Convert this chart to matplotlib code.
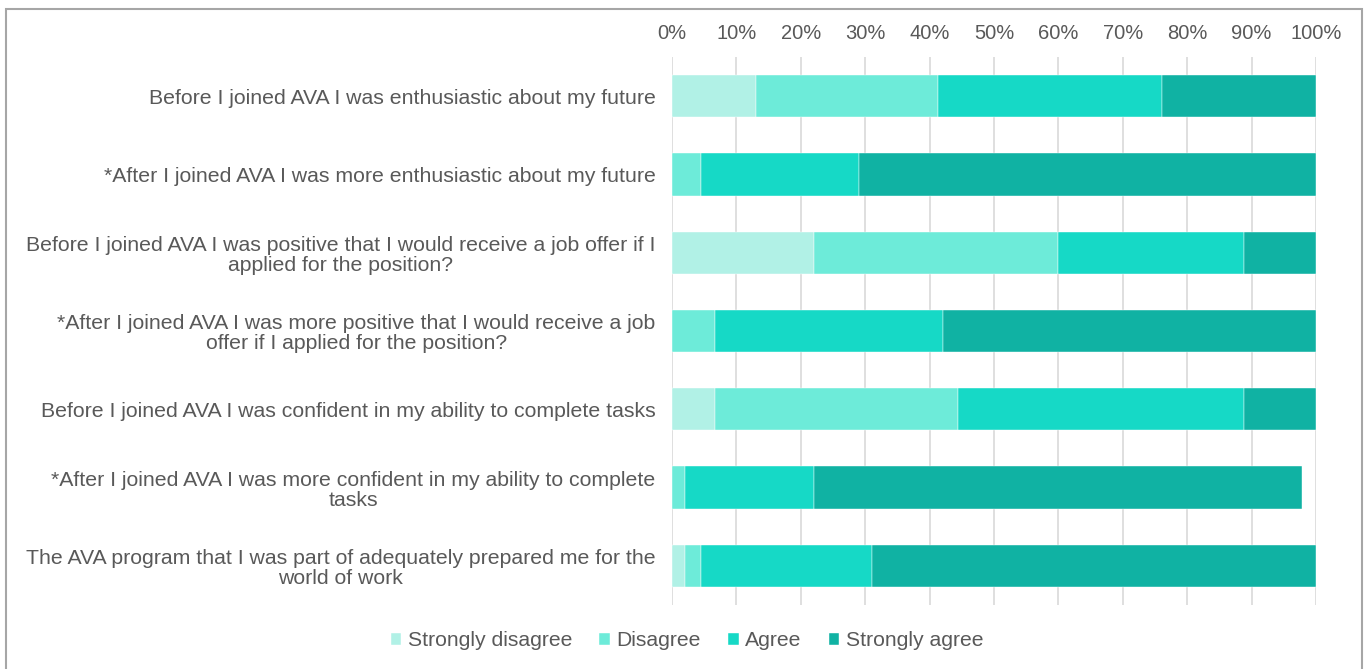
import numpy as np
import matplotlib
matplotlib.use('Agg')
import matplotlib.pyplot as plt
from matplotlib.patches import Rectangle

plt.rcParams['font.family'] = ['Liberation Sans', 'DejaVu Sans']

# Survey statements (top to bottom)
questions = [
    'Before I joined AVA I was enthusiastic about my future',
    '*After I joined AVA I was more enthusiastic about my future',
    'Before I joined AVA I was positive that I would receive a job offer if I\napplied for the position?',
    '*After I joined AVA I was more positive that I would receive a job\noffer if I applied for the position?',
    'Before I joined AVA I was confident in my ability to complete tasks',
    '*After I joined AVA I was more confident in my ability to complete\ntasks',
    'The AVA program that I was part of adequately prepared me for the\nworld of work',
]

# Response shares in percent
strongly_disagree = [13.0, 0.0, 22.1, 0.0, 6.7, 0.0, 2.0]
disagree          = [28.3, 4.5, 37.9, 6.7, 37.7, 2.0, 2.5]
agree             = [34.8, 24.5, 28.8, 35.4, 44.4, 20.1, 26.6]
strongly_agree    = [23.9, 71.0, 11.2, 57.9, 11.2, 75.8, 68.9]

series = [strongly_disagree, disagree, agree, strongly_agree]
names = ['Strongly disagree', 'Disagree', 'Agree', 'Strongly agree']
colors = ['#b1f1e6', '#6debd9', '#16d9c6', '#10b2a3']

txt = '#595959'

fig = plt.figure(figsize=(13.64, 6.69), dpi=100)
ax = fig.add_axes([0.4927, 0.0957, 0.4721, 0.8191])

y = np.arange(len(questions))
left = np.zeros(len(questions))
for vals, nm, c in zip(series, names, colors):
    vals = np.array(vals)
    ax.barh(y, vals, left=left, height=0.54, color=c, label=nm,
            edgecolor='white', linewidth=0.3, zorder=3)
    left += vals

ax.set_xlim(0, 100)
ax.set_ylim(len(questions) - 0.5, -0.5)
ax.set_xticks(np.arange(0, 101, 10))
ax.set_xticklabels(['%d%%' % v for v in range(0, 101, 10)])
ax.xaxis.tick_top()
ax.tick_params(axis='x', length=0, pad=10, labelsize=14.5, colors=txt)
ax.set_yticks(y)
ax.set_yticklabels(questions, fontsize=15.3, color=txt, ha='right',
                   multialignment='center', linespacing=1.08)
ax.tick_params(axis='y', length=0, pad=12)
ax.grid(axis='x', color='#d9d9d9', linewidth=1.2, zorder=0)
for s in ax.spines.values():
    s.set_visible(False)

leg = ax.legend(ncol=4, frameon=False, fontsize=15.2, handlelength=0.5,
                handleheight=0.5, handletextpad=0.3, columnspacing=1.3,
                loc='center', bbox_to_anchor=(687 / 1364, 1 - 641 / 669),
                bbox_transform=fig.transFigure)
for t in leg.get_texts():
    t.set_color(txt)

# outer frame
fig.patches.append(Rectangle((6 / 1364, -0.05), 1356 / 1364, 1.05 - 9 / 669,
                             transform=fig.transFigure, fill=False,
                             edgecolor='#a6a6a6', linewidth=1.5))

fig.savefig('out.png', dpi=100)
